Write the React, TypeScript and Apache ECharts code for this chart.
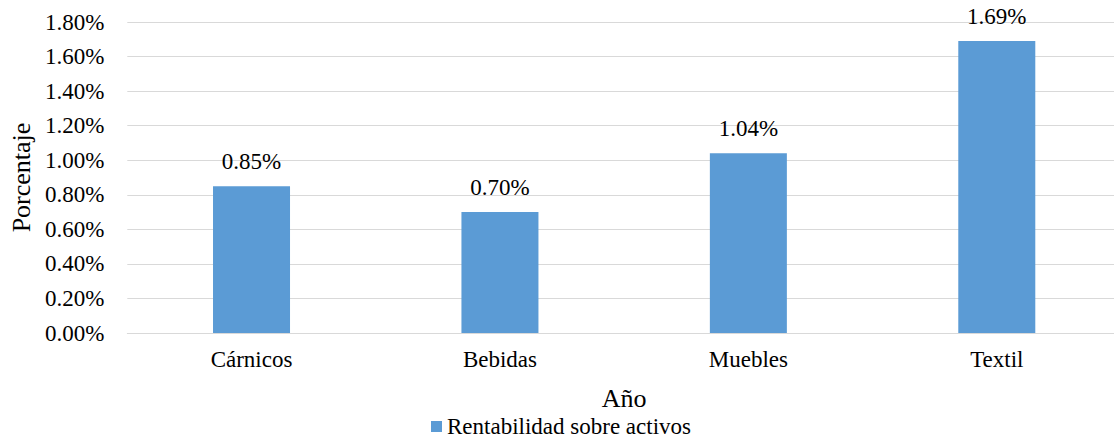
import React, { useEffect, useRef } from "react";
import * as echarts from "echarts";

const categories = ["Cárnicos", "Bebidas", "Muebles", "Textil"];
const values = [0.85, 0.7, 1.04, 1.69];
const seriesName = "Rentabilidad sobre activos";
const yMin = 0;
const yMax = 1.8;
const yStep = 0.2;

const FONT = "'Liberation Serif', 'Times New Roman', serif";

export default function App() {
  const ref = useRef<HTMLDivElement>(null);
  useEffect(() => {
    if (!ref.current) return;
    const chart = echarts.init(ref.current, undefined, { renderer: "svg" });
    chart.setOption({
      animation: false,
      textStyle: { fontFamily: FONT, color: "#000" },
      grid: { left: 126, right: 0, top: 22, bottom: 108, containLabel: false },
      legend: {
        data: [seriesName],
        left: 431,
        top: 415,
        padding: 0,
        itemWidth: 11,
        itemHeight: 11,
        icon: "rect",
        textStyle: { fontFamily: FONT, fontSize: 23, color: "#000" },
      },
      xAxis: {
        type: "category",
        data: categories,
        name: "Año",
        nameLocation: "middle",
        nameGap: 52,
        nameTextStyle: { fontFamily: FONT, fontSize: 26, color: "#000" },
        axisLine: { show: true, lineStyle: { color: "#D9D9D9", width: 1 } },
        axisTick: { show: false },
        axisLabel: { fontFamily: FONT, fontSize: 23, color: "#000", margin: 15 },
      },
      yAxis: {
        type: "value",
        min: yMin,
        max: yMax,
        interval: yStep,
        name: "Porcentaje",
        nameLocation: "middle",
        nameGap: 92,
        nameTextStyle: { fontFamily: FONT, fontSize: 26, color: "#000" },
        axisLine: { show: false },
        axisTick: { show: false },
        splitLine: { lineStyle: { color: "#D9D9D9", width: 1 } },
        axisLabel: {
          fontFamily: FONT,
          fontSize: 23,
          color: "#000",
          margin: 23,
          formatter: (v: number) => v.toFixed(2) + "%",
        },
      },
      series: [
        {
          name: seriesName,
          type: "bar",
          data: values,
          barWidth: "31%",
          itemStyle: { color: "#5B9BD5" },
          label: {
            show: true,
            position: "top",
            distance: 13,
            fontFamily: FONT,
            fontSize: 23,
            color: "#000",
            formatter: (p: any) => Number(p.value).toFixed(2) + "%",
          },
        },
      ],
    });
    return () => chart.dispose();
  }, []);
  return (
    <div
      style={{
        position: "fixed",
        left: 0,
        top: 0,
        width: 1114,
        height: 441,
        overflow: "hidden",
        background: "#fff",
      }}
    >
      <div ref={ref} style={{ width: 1121, height: 441 }} />
    </div>
  );
}
